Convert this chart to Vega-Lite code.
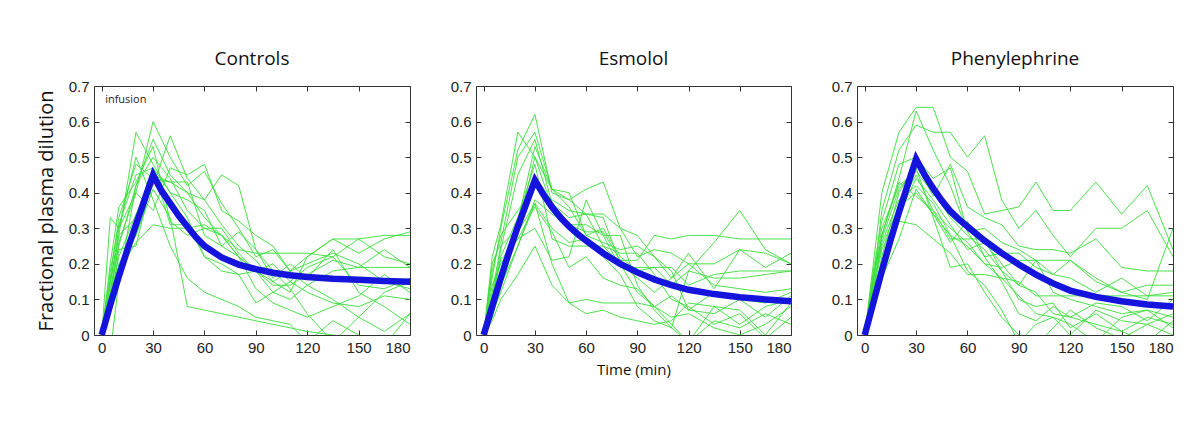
{
"$schema": "https://vega.github.io/schema/vega-lite/v6.json",
"background": "white",
"padding": {"left": 35, "top": 50, "right": 5, "bottom": 5},
"spacing": 35,
"config": {
  "view": {"stroke": null},
  "font": "Open Sans",
  "title": {"font": "Open Sans", "fontSize": 19, "fontWeight": "normal", "color": "#111", "offset": 10},
  "axis": {"grid": false, "domainColor": "#333", "tickColor": "#333", "tickSize": -5, "labelFont": "Liberation Sans", "labelFontWeight": 400, "labelFontSize": 15, "labelColor": "#222", "labelPadding": 10, "titleFont": "Open Sans", "titleFontWeight": "normal", "titleColor": "#111"}
},
"datasets": {
"gC": [
{"s":1,"t":0,"v":0},{"s":1,"t":5,"v":0.12},{"s":1,"t":10,"v":0.25},{"s":1,"t":20,"v":0.42},{"s":1,"t":30,"v":0.55},{"s":1,"t":40,"v":0.45},{"s":1,"t":50,"v":0.4},{"s":1,"t":60,"v":0.33},{"s":1,"t":70,"v":0.28},{"s":1,"t":80,"v":0.22},{"s":1,"t":90,"v":0.18},{"s":1,"t":100,"v":0.2},{"s":1,"t":110,"v":0.15},{"s":1,"t":120,"v":0.19},{"s":1,"t":135,"v":0.22},{"s":1,"t":150,"v":0.27},{"s":1,"t":165,"v":0.28},{"s":1,"t":180,"v":0.28},
{"s":2,"t":0,"v":0},{"s":2,"t":5,"v":0.15},{"s":2,"t":10,"v":0.28},{"s":2,"t":20,"v":0.57},{"s":2,"t":30,"v":0.48},{"s":2,"t":40,"v":0.4},{"s":2,"t":50,"v":0.38},{"s":2,"t":60,"v":0.35},{"s":2,"t":70,"v":0.25},{"s":2,"t":80,"v":0.22},{"s":2,"t":90,"v":0.18},{"s":2,"t":100,"v":0.14},{"s":2,"t":110,"v":0.14},{"s":2,"t":120,"v":0.17},{"s":2,"t":135,"v":0.21},{"s":2,"t":150,"v":0.19},{"s":2,"t":165,"v":0.24},{"s":2,"t":180,"v":0.19},
{"s":3,"t":0,"v":0},{"s":3,"t":5,"v":0.33},{"s":3,"t":10,"v":0.3},{"s":3,"t":20,"v":0.4},{"s":3,"t":30,"v":0.6},{"s":3,"t":40,"v":0.5},{"s":3,"t":50,"v":0.42},{"s":3,"t":60,"v":0.46},{"s":3,"t":70,"v":0.37},{"s":3,"t":80,"v":0.3},{"s":3,"t":90,"v":0.22},{"s":3,"t":100,"v":0.24},{"s":3,"t":110,"v":0.18},{"s":3,"t":120,"v":0.14},{"s":3,"t":135,"v":0.1},{"s":3,"t":150,"v":0.05},{"s":3,"t":165,"v":0.12},{"s":3,"t":180,"v":0.15},
{"s":4,"t":0,"v":0},{"s":4,"t":5,"v":0.1},{"s":4,"t":10,"v":0.22},{"s":4,"t":20,"v":0.34},{"s":4,"t":30,"v":0.42},{"s":4,"t":40,"v":0.56},{"s":4,"t":50,"v":0.44},{"s":4,"t":60,"v":0.38},{"s":4,"t":70,"v":0.31},{"s":4,"t":80,"v":0.25},{"s":4,"t":90,"v":0.21},{"s":4,"t":100,"v":0.15},{"s":4,"t":110,"v":0.12},{"s":4,"t":120,"v":0.22},{"s":4,"t":135,"v":0.27},{"s":4,"t":150,"v":0.23},{"s":4,"t":165,"v":0.27},{"s":4,"t":180,"v":0.29},
{"s":5,"t":0,"v":0},{"s":5,"t":5,"v":0.08},{"s":5,"t":10,"v":0.18},{"s":5,"t":20,"v":0.26},{"s":5,"t":30,"v":0.31},{"s":5,"t":40,"v":0.3},{"s":5,"t":50,"v":0.3},{"s":5,"t":60,"v":0.31},{"s":5,"t":70,"v":0.28},{"s":5,"t":80,"v":0.24},{"s":5,"t":90,"v":0.23},{"s":5,"t":100,"v":0.23},{"s":5,"t":110,"v":0.23},{"s":5,"t":120,"v":0.23},{"s":5,"t":135,"v":0.22},{"s":5,"t":150,"v":0.14},{"s":5,"t":165,"v":0.13},{"s":5,"t":180,"v":0.16},
{"s":6,"t":0,"v":0},{"s":6,"t":5,"v":0.06},{"s":6,"t":10,"v":0.24},{"s":6,"t":20,"v":0.25},{"s":6,"t":30,"v":0.45},{"s":6,"t":40,"v":0.43},{"s":6,"t":50,"v":0.4},{"s":6,"t":60,"v":0.38},{"s":6,"t":70,"v":0.45},{"s":6,"t":80,"v":0.42},{"s":6,"t":90,"v":0.24},{"s":6,"t":100,"v":0.18},{"s":6,"t":110,"v":0.13},{"s":6,"t":120,"v":0.06},{"s":6,"t":135,"v":-0.02},{"s":6,"t":150,"v":0.05},{"s":6,"t":165,"v":0.01},{"s":6,"t":180,"v":0.06},
{"s":7,"t":0,"v":0},{"s":7,"t":5,"v":-0.05},{"s":7,"t":10,"v":0.15},{"s":7,"t":20,"v":0.42},{"s":7,"t":30,"v":0.5},{"s":7,"t":40,"v":0.44},{"s":7,"t":50,"v":0.35},{"s":7,"t":60,"v":0.3},{"s":7,"t":70,"v":0.28},{"s":7,"t":80,"v":0.22},{"s":7,"t":90,"v":0.13},{"s":7,"t":100,"v":0.09},{"s":7,"t":110,"v":0.07},{"s":7,"t":120,"v":0.05},{"s":7,"t":135,"v":0.08},{"s":7,"t":150,"v":0.11},{"s":7,"t":165,"v":0.17},{"s":7,"t":180,"v":0.12},
{"s":8,"t":0,"v":0},{"s":8,"t":5,"v":0.18},{"s":8,"t":10,"v":0.31},{"s":8,"t":20,"v":0.45},{"s":8,"t":30,"v":0.47},{"s":8,"t":40,"v":0.4},{"s":8,"t":50,"v":0.33},{"s":8,"t":60,"v":0.22},{"s":8,"t":70,"v":0.2},{"s":8,"t":80,"v":0.17},{"s":8,"t":90,"v":0.09},{"s":8,"t":100,"v":0.12},{"s":8,"t":110,"v":0.1},{"s":8,"t":120,"v":0.14},{"s":8,"t":135,"v":0.18},{"s":8,"t":150,"v":0.19},{"s":8,"t":165,"v":0.19},{"s":8,"t":180,"v":0.19},
{"s":9,"t":0,"v":0},{"s":9,"t":5,"v":0.2},{"s":9,"t":10,"v":0.36},{"s":9,"t":20,"v":0.43},{"s":9,"t":30,"v":0.53},{"s":9,"t":40,"v":0.32},{"s":9,"t":50,"v":0.28},{"s":9,"t":60,"v":0.3},{"s":9,"t":70,"v":0.3},{"s":9,"t":80,"v":0.23},{"s":9,"t":90,"v":0.18},{"s":9,"t":100,"v":0.15},{"s":9,"t":110,"v":0.18},{"s":9,"t":120,"v":0.22},{"s":9,"t":135,"v":0.27},{"s":9,"t":150,"v":0.27},{"s":9,"t":165,"v":0.22},{"s":9,"t":180,"v":0.2},
{"s":10,"t":0,"v":0},{"s":10,"t":5,"v":0.14},{"s":10,"t":10,"v":0.3},{"s":10,"t":20,"v":0.5},{"s":10,"t":30,"v":0.38},{"s":10,"t":40,"v":0.25},{"s":10,"t":50,"v":0.16},{"s":10,"t":60,"v":0.12},{"s":10,"t":70,"v":0.1},{"s":10,"t":80,"v":0.08},{"s":10,"t":90,"v":0.05},{"s":10,"t":100,"v":0.04},{"s":10,"t":110,"v":0.03},{"s":10,"t":120,"v":-0.02},{"s":10,"t":135,"v":0.04},{"s":10,"t":150,"v":0},{"s":10,"t":165,"v":-0.03},{"s":10,"t":180,"v":0.06},
{"s":11,"t":0,"v":0},{"s":11,"t":5,"v":0.12},{"s":11,"t":10,"v":0.28},{"s":11,"t":20,"v":0.33},{"s":11,"t":30,"v":0.47},{"s":11,"t":40,"v":0.31},{"s":11,"t":50,"v":0.31},{"s":11,"t":60,"v":0.22},{"s":11,"t":70,"v":0.18},{"s":11,"t":80,"v":0.17},{"s":11,"t":90,"v":0.18},{"s":11,"t":100,"v":0.12},{"s":11,"t":110,"v":0.15},{"s":11,"t":120,"v":0.12},{"s":11,"t":135,"v":0.09},{"s":11,"t":150,"v":0.08},{"s":11,"t":165,"v":0.11},{"s":11,"t":180,"v":0.1},
{"s":12,"t":0,"v":0},{"s":12,"t":5,"v":0.1},{"s":12,"t":10,"v":0.26},{"s":12,"t":20,"v":0.4},{"s":12,"t":30,"v":0.35},{"s":12,"t":40,"v":0.47},{"s":12,"t":50,"v":0.45},{"s":12,"t":60,"v":0.48},{"s":12,"t":70,"v":0.35},{"s":12,"t":80,"v":0.32},{"s":12,"t":90,"v":0.28},{"s":12,"t":100,"v":0.25},{"s":12,"t":110,"v":0.18},{"s":12,"t":120,"v":0.2},{"s":12,"t":135,"v":0.23},{"s":12,"t":150,"v":0.2},{"s":12,"t":165,"v":0.15},{"s":12,"t":180,"v":0.13},
{"s":13,"t":0,"v":0},{"s":13,"t":5,"v":0.09},{"s":13,"t":10,"v":0.2},{"s":13,"t":20,"v":0.28},{"s":13,"t":30,"v":0.41},{"s":13,"t":40,"v":0.33},{"s":13,"t":50,"v":0.08},{"s":13,"t":60,"v":0.07},{"s":13,"t":70,"v":0.06},{"s":13,"t":80,"v":0.05},{"s":13,"t":90,"v":0.04},{"s":13,"t":100,"v":0.03},{"s":13,"t":110,"v":0.02},{"s":13,"t":120,"v":0.01},{"s":13,"t":135,"v":0},{"s":13,"t":150,"v":-0.01},{"s":13,"t":165,"v":-0.02},{"s":13,"t":180,"v":-0.04},
{"s":14,"t":0,"v":0},{"s":14,"t":5,"v":0.16},{"s":14,"t":10,"v":0.33},{"s":14,"t":20,"v":0.48},{"s":14,"t":30,"v":0.44},{"s":14,"t":40,"v":0.43},{"s":14,"t":50,"v":0.43},{"s":14,"t":60,"v":0.28},{"s":14,"t":70,"v":0.25},{"s":14,"t":80,"v":0.29},{"s":14,"t":90,"v":0.24},{"s":14,"t":100,"v":0.16},{"s":14,"t":110,"v":0.2},{"s":14,"t":120,"v":0.16},{"s":14,"t":135,"v":0.24},{"s":14,"t":150,"v":0.12},{"s":14,"t":165,"v":0.08},{"s":14,"t":180,"v":0.03}
],
"gE": [
{"s":1,"t":0,"v":0},{"s":1,"t":5,"v":0.22},{"s":1,"t":10,"v":0.31},{"s":1,"t":20,"v":0.57},{"s":1,"t":30,"v":0.5},{"s":1,"t":40,"v":0.41},{"s":1,"t":50,"v":0.4},{"s":1,"t":60,"v":0.28},{"s":1,"t":70,"v":0.3},{"s":1,"t":80,"v":0.22},{"s":1,"t":90,"v":0.18},{"s":1,"t":100,"v":0.19},{"s":1,"t":110,"v":0.14},{"s":1,"t":120,"v":0.18},{"s":1,"t":135,"v":0.16},{"s":1,"t":150,"v":0.16},{"s":1,"t":165,"v":0.17},{"s":1,"t":180,"v":0.18},
{"s":2,"t":0,"v":0},{"s":2,"t":5,"v":0.16},{"s":2,"t":10,"v":0.3},{"s":2,"t":20,"v":0.52},{"s":2,"t":30,"v":0.62},{"s":2,"t":40,"v":0.4},{"s":2,"t":50,"v":0.38},{"s":2,"t":60,"v":0.41},{"s":2,"t":70,"v":0.43},{"s":2,"t":80,"v":0.3},{"s":2,"t":90,"v":0.22},{"s":2,"t":100,"v":0.24},{"s":2,"t":110,"v":0.23},{"s":2,"t":120,"v":0.2},{"s":2,"t":135,"v":0.2},{"s":2,"t":150,"v":0.24},{"s":2,"t":165,"v":0.23},{"s":2,"t":180,"v":0.2},
{"s":3,"t":0,"v":0},{"s":3,"t":5,"v":0.1},{"s":3,"t":10,"v":0.24},{"s":3,"t":20,"v":0.45},{"s":3,"t":30,"v":0.55},{"s":3,"t":40,"v":0.37},{"s":3,"t":50,"v":0.33},{"s":3,"t":60,"v":0.34},{"s":3,"t":70,"v":0.25},{"s":3,"t":80,"v":0.2},{"s":3,"t":90,"v":0.12},{"s":3,"t":100,"v":0.08},{"s":3,"t":110,"v":0.11},{"s":3,"t":120,"v":0.07},{"s":3,"t":135,"v":0.12},{"s":3,"t":150,"v":0.1},{"s":3,"t":165,"v":0.09},{"s":3,"t":180,"v":0.12},
{"s":4,"t":0,"v":0},{"s":4,"t":5,"v":0.08},{"s":4,"t":10,"v":0.16},{"s":4,"t":20,"v":0.32},{"s":4,"t":30,"v":0.53},{"s":4,"t":40,"v":0.41},{"s":4,"t":50,"v":0.36},{"s":4,"t":60,"v":0.28},{"s":4,"t":70,"v":0.26},{"s":4,"t":80,"v":0.24},{"s":4,"t":90,"v":0.25},{"s":4,"t":100,"v":0.22},{"s":4,"t":110,"v":0.18},{"s":4,"t":120,"v":0.07},{"s":4,"t":135,"v":0.06},{"s":4,"t":150,"v":0.1},{"s":4,"t":165,"v":0.05},{"s":4,"t":180,"v":0.11},
{"s":5,"t":0,"v":0},{"s":5,"t":5,"v":0.05},{"s":5,"t":10,"v":0.14},{"s":5,"t":20,"v":0.25},{"s":5,"t":30,"v":0.37},{"s":5,"t":40,"v":0.3},{"s":5,"t":50,"v":0.26},{"s":5,"t":60,"v":0.27},{"s":5,"t":70,"v":0.22},{"s":5,"t":80,"v":0.17},{"s":5,"t":90,"v":0.08},{"s":5,"t":100,"v":0.04},{"s":5,"t":110,"v":0.02},{"s":5,"t":120,"v":-0.02},{"s":5,"t":135,"v":0.08},{"s":5,"t":150,"v":0.07},{"s":5,"t":165,"v":0},{"s":5,"t":180,"v":0.09},
{"s":6,"t":0,"v":0},{"s":6,"t":5,"v":0.12},{"s":6,"t":10,"v":0.25},{"s":6,"t":20,"v":0.3},{"s":6,"t":30,"v":0.5},{"s":6,"t":40,"v":0.36},{"s":6,"t":50,"v":0.31},{"s":6,"t":60,"v":0.29},{"s":6,"t":70,"v":0.29},{"s":6,"t":80,"v":0.21},{"s":6,"t":90,"v":0.21},{"s":6,"t":100,"v":0.28},{"s":6,"t":110,"v":0.27},{"s":6,"t":120,"v":0.28},{"s":6,"t":135,"v":0.28},{"s":6,"t":150,"v":0.27},{"s":6,"t":165,"v":0.27},{"s":6,"t":180,"v":0.27},
{"s":7,"t":0,"v":0},{"s":7,"t":5,"v":0.06},{"s":7,"t":10,"v":0.12},{"s":7,"t":20,"v":0.25},{"s":7,"t":30,"v":0.38},{"s":7,"t":40,"v":0.34},{"s":7,"t":50,"v":0.31},{"s":7,"t":60,"v":0.31},{"s":7,"t":70,"v":0.28},{"s":7,"t":80,"v":0.28},{"s":7,"t":90,"v":0.14},{"s":7,"t":100,"v":0.07},{"s":7,"t":110,"v":0.02},{"s":7,"t":120,"v":0.18},{"s":7,"t":135,"v":0.26},{"s":7,"t":150,"v":0.35},{"s":7,"t":165,"v":0.24},{"s":7,"t":180,"v":0.2},
{"s":8,"t":0,"v":0},{"s":8,"t":5,"v":0.14},{"s":8,"t":10,"v":0.2},{"s":8,"t":20,"v":0.27},{"s":8,"t":30,"v":0.3},{"s":8,"t":40,"v":0.21},{"s":8,"t":50,"v":0.22},{"s":8,"t":60,"v":0.38},{"s":8,"t":70,"v":0.28},{"s":8,"t":80,"v":0.19},{"s":8,"t":90,"v":0.19},{"s":8,"t":100,"v":0.19},{"s":8,"t":110,"v":0.19},{"s":8,"t":120,"v":0.14},{"s":8,"t":135,"v":0.17},{"s":8,"t":150,"v":0.18},{"s":8,"t":165,"v":0.18},{"s":8,"t":180,"v":0.18},
{"s":9,"t":0,"v":0},{"s":9,"t":5,"v":0.04},{"s":9,"t":10,"v":0.1},{"s":9,"t":20,"v":0.17},{"s":9,"t":30,"v":0.25},{"s":9,"t":40,"v":0.14},{"s":9,"t":50,"v":0.09},{"s":9,"t":60,"v":0.1},{"s":9,"t":70,"v":0.09},{"s":9,"t":80,"v":0.09},{"s":9,"t":90,"v":0.09},{"s":9,"t":100,"v":0.08},{"s":9,"t":110,"v":0.05},{"s":9,"t":120,"v":0.06},{"s":9,"t":135,"v":0.02},{"s":9,"t":150,"v":0},{"s":9,"t":165,"v":0.03},{"s":9,"t":180,"v":0.08},
{"s":10,"t":0,"v":0},{"s":10,"t":5,"v":0.18},{"s":10,"t":10,"v":0.28},{"s":10,"t":20,"v":0.35},{"s":10,"t":30,"v":0.42},{"s":10,"t":40,"v":0.38},{"s":10,"t":50,"v":0.35},{"s":10,"t":60,"v":0.34},{"s":10,"t":70,"v":0.33},{"s":10,"t":80,"v":0.2},{"s":10,"t":90,"v":0.16},{"s":10,"t":100,"v":0.12},{"s":10,"t":110,"v":0.16},{"s":10,"t":120,"v":0.23},{"s":10,"t":135,"v":0.13},{"s":10,"t":150,"v":0.24},{"s":10,"t":165,"v":0.19},{"s":10,"t":180,"v":0.23},
{"s":11,"t":0,"v":0},{"s":11,"t":5,"v":0.1},{"s":11,"t":10,"v":0.22},{"s":11,"t":20,"v":0.33},{"s":11,"t":30,"v":0.48},{"s":11,"t":40,"v":0.27},{"s":11,"t":50,"v":0.25},{"s":11,"t":60,"v":0.25},{"s":11,"t":70,"v":0.25},{"s":11,"t":80,"v":0.23},{"s":11,"t":90,"v":0.23},{"s":11,"t":100,"v":0.17},{"s":11,"t":110,"v":0.1},{"s":11,"t":120,"v":0.08},{"s":11,"t":135,"v":0.03},{"s":11,"t":150,"v":0.06},{"s":11,"t":165,"v":-0.01},{"s":11,"t":180,"v":0.05},
{"s":12,"t":0,"v":0},{"s":12,"t":5,"v":0.09},{"s":12,"t":10,"v":0.18},{"s":12,"t":20,"v":0.29},{"s":12,"t":30,"v":0.37},{"s":12,"t":40,"v":0.2},{"s":12,"t":50,"v":0.09},{"s":12,"t":60,"v":0.06},{"s":12,"t":70,"v":0.07},{"s":12,"t":80,"v":0.05},{"s":12,"t":90,"v":0.04},{"s":12,"t":100,"v":0.03},{"s":12,"t":110,"v":0.04},{"s":12,"t":120,"v":0.09},{"s":12,"t":135,"v":0.08},{"s":12,"t":150,"v":0.03},{"s":12,"t":165,"v":0.08},{"s":12,"t":180,"v":0.1},
{"s":13,"t":0,"v":0},{"s":13,"t":5,"v":0.2},{"s":13,"t":10,"v":0.26},{"s":13,"t":20,"v":0.5},{"s":13,"t":30,"v":0.57},{"s":13,"t":40,"v":0.41},{"s":13,"t":50,"v":0.38},{"s":13,"t":60,"v":0.34},{"s":13,"t":70,"v":0.34},{"s":13,"t":80,"v":0.3},{"s":13,"t":90,"v":0.28},{"s":13,"t":100,"v":0.22},{"s":13,"t":110,"v":0.16},{"s":13,"t":120,"v":0.2},{"s":13,"t":135,"v":0.14},{"s":13,"t":150,"v":0.13},{"s":13,"t":165,"v":0.12},{"s":13,"t":180,"v":0.13},
{"s":14,"t":0,"v":0},{"s":14,"t":5,"v":0.11},{"s":14,"t":10,"v":0.21},{"s":14,"t":20,"v":0.27},{"s":14,"t":30,"v":0.36},{"s":14,"t":40,"v":0.29},{"s":14,"t":50,"v":0.19},{"s":14,"t":60,"v":0.22},{"s":14,"t":70,"v":0.16},{"s":14,"t":80,"v":0.14},{"s":14,"t":90,"v":0.13},{"s":14,"t":100,"v":0.08},{"s":14,"t":110,"v":0.03},{"s":14,"t":120,"v":-0.02},{"s":14,"t":135,"v":0.04},{"s":14,"t":150,"v":0.02},{"s":14,"t":165,"v":0.06},{"s":14,"t":180,"v":0.03}
],
"gP": [
{"s":1,"t":0,"v":0},{"s":1,"t":5,"v":0.2},{"s":1,"t":10,"v":0.4},{"s":1,"t":20,"v":0.57},{"s":1,"t":30,"v":0.64},{"s":1,"t":40,"v":0.64},{"s":1,"t":50,"v":0.5},{"s":1,"t":60,"v":0.46},{"s":1,"t":70,"v":0.34},{"s":1,"t":80,"v":0.35},{"s":1,"t":90,"v":0.36},{"s":1,"t":100,"v":0.43},{"s":1,"t":110,"v":0.35},{"s":1,"t":120,"v":0.35},{"s":1,"t":135,"v":0.43},{"s":1,"t":150,"v":0.34},{"s":1,"t":165,"v":0.42},{"s":1,"t":180,"v":0.24},
{"s":2,"t":0,"v":0},{"s":2,"t":5,"v":0.15},{"s":2,"t":10,"v":0.35},{"s":2,"t":20,"v":0.52},{"s":2,"t":30,"v":0.59},{"s":2,"t":40,"v":0.57},{"s":2,"t":50,"v":0.57},{"s":2,"t":60,"v":0.5},{"s":2,"t":70,"v":0.56},{"s":2,"t":80,"v":0.38},{"s":2,"t":90,"v":0.3},{"s":2,"t":100,"v":0.35},{"s":2,"t":110,"v":0.28},{"s":2,"t":120,"v":0.22},{"s":2,"t":135,"v":0.3},{"s":2,"t":150,"v":0.3},{"s":2,"t":165,"v":0.35},{"s":2,"t":180,"v":0.22},
{"s":3,"t":0,"v":0},{"s":3,"t":5,"v":0.12},{"s":3,"t":10,"v":0.28},{"s":3,"t":20,"v":0.44},{"s":3,"t":30,"v":0.63},{"s":3,"t":40,"v":0.52},{"s":3,"t":50,"v":0.42},{"s":3,"t":60,"v":0.29},{"s":3,"t":70,"v":0.3},{"s":3,"t":80,"v":0.26},{"s":3,"t":90,"v":0.24},{"s":3,"t":100,"v":0.21},{"s":3,"t":110,"v":0.21},{"s":3,"t":120,"v":0.21},{"s":3,"t":135,"v":0.16},{"s":3,"t":150,"v":0.12},{"s":3,"t":165,"v":0.1},{"s":3,"t":180,"v":0.3},
{"s":4,"t":0,"v":0},{"s":4,"t":5,"v":0.1},{"s":4,"t":10,"v":0.22},{"s":4,"t":20,"v":0.4},{"s":4,"t":30,"v":0.48},{"s":4,"t":40,"v":0.39},{"s":4,"t":50,"v":0.48},{"s":4,"t":60,"v":0.36},{"s":4,"t":70,"v":0.33},{"s":4,"t":80,"v":0.31},{"s":4,"t":90,"v":0.25},{"s":4,"t":100,"v":0.24},{"s":4,"t":110,"v":0.24},{"s":4,"t":120,"v":0.23},{"s":4,"t":135,"v":0.27},{"s":4,"t":150,"v":0.19},{"s":4,"t":165,"v":0.18},{"s":4,"t":180,"v":0.18},
{"s":5,"t":0,"v":0},{"s":5,"t":5,"v":0.14},{"s":5,"t":10,"v":0.25},{"s":5,"t":20,"v":0.36},{"s":5,"t":30,"v":0.45},{"s":5,"t":40,"v":0.35},{"s":5,"t":50,"v":0.3},{"s":5,"t":60,"v":0.26},{"s":5,"t":70,"v":0.2},{"s":5,"t":80,"v":0.19},{"s":5,"t":90,"v":0.21},{"s":5,"t":100,"v":0.21},{"s":5,"t":110,"v":0.12},{"s":5,"t":120,"v":0.1},{"s":5,"t":135,"v":0.08},{"s":5,"t":150,"v":0.06},{"s":5,"t":165,"v":0.07},{"s":5,"t":180,"v":0.05},
{"s":6,"t":0,"v":0},{"s":6,"t":5,"v":0.09},{"s":6,"t":10,"v":0.18},{"s":6,"t":20,"v":0.32},{"s":6,"t":30,"v":0.31},{"s":6,"t":40,"v":0.27},{"s":6,"t":50,"v":0.23},{"s":6,"t":60,"v":0.17},{"s":6,"t":70,"v":0.17},{"s":6,"t":80,"v":0.16},{"s":6,"t":90,"v":0.15},{"s":6,"t":100,"v":0.11},{"s":6,"t":110,"v":0.11},{"s":6,"t":120,"v":0.11},{"s":6,"t":135,"v":0.11},{"s":6,"t":150,"v":0.11},{"s":6,"t":165,"v":0.11},{"s":6,"t":180,"v":0.11},
{"s":7,"t":0,"v":0},{"s":7,"t":5,"v":0.13},{"s":7,"t":10,"v":0.26},{"s":7,"t":20,"v":0.38},{"s":7,"t":30,"v":0.42},{"s":7,"t":40,"v":0.37},{"s":7,"t":50,"v":0.28},{"s":7,"t":60,"v":0.25},{"s":7,"t":70,"v":0.2},{"s":7,"t":80,"v":0.16},{"s":7,"t":90,"v":0.11},{"s":7,"t":100,"v":0.06},{"s":7,"t":110,"v":0.05},{"s":7,"t":120,"v":0.03},{"s":7,"t":135,"v":-0.02},{"s":7,"t":150,"v":0.05},{"s":7,"t":165,"v":0.07},{"s":7,"t":180,"v":0.02},
{"s":8,"t":0,"v":0},{"s":8,"t":5,"v":0.16},{"s":8,"t":10,"v":0.3},{"s":8,"t":20,"v":0.42},{"s":8,"t":30,"v":0.46},{"s":8,"t":40,"v":0.4},{"s":8,"t":50,"v":0.33},{"s":8,"t":60,"v":0.28},{"s":8,"t":70,"v":0.24},{"s":8,"t":80,"v":0.18},{"s":8,"t":90,"v":0.1},{"s":8,"t":100,"v":0.08},{"s":8,"t":110,"v":0.09},{"s":8,"t":120,"v":0.02},{"s":8,"t":135,"v":0.06},{"s":8,"t":150,"v":0.01},{"s":8,"t":165,"v":-0.02},{"s":8,"t":180,"v":0.04},
{"s":9,"t":0,"v":0},{"s":9,"t":5,"v":0.1},{"s":9,"t":10,"v":0.16},{"s":9,"t":20,"v":0.27},{"s":9,"t":30,"v":0.41},{"s":9,"t":40,"v":0.34},{"s":9,"t":50,"v":0.28},{"s":9,"t":60,"v":0.18},{"s":9,"t":70,"v":0.14},{"s":9,"t":80,"v":0.07},{"s":9,"t":90,"v":-0.02},{"s":9,"t":100,"v":0.03},{"s":9,"t":110,"v":0.05},{"s":9,"t":120,"v":0},{"s":9,"t":135,"v":0.07},{"s":9,"t":150,"v":0.04},{"s":9,"t":165,"v":0.03},{"s":9,"t":180,"v":0.06},
{"s":10,"t":0,"v":0},{"s":10,"t":5,"v":0.18},{"s":10,"t":10,"v":0.32},{"s":10,"t":20,"v":0.48},{"s":10,"t":30,"v":0.5},{"s":10,"t":40,"v":0.44},{"s":10,"t":50,"v":0.47},{"s":10,"t":60,"v":0.29},{"s":10,"t":70,"v":0.22},{"s":10,"t":80,"v":0.23},{"s":10,"t":90,"v":0.23},{"s":10,"t":100,"v":0.19},{"s":10,"t":110,"v":0.17},{"s":10,"t":120,"v":0.21},{"s":10,"t":135,"v":0.15},{"s":10,"t":150,"v":0.12},{"s":10,"t":165,"v":0.14},{"s":10,"t":180,"v":0.14},
{"s":11,"t":0,"v":0},{"s":11,"t":5,"v":0.12},{"s":11,"t":10,"v":0.24},{"s":11,"t":20,"v":0.34},{"s":11,"t":30,"v":0.44},{"s":11,"t":40,"v":0.38},{"s":11,"t":50,"v":0.31},{"s":11,"t":60,"v":0.24},{"s":11,"t":70,"v":0.26},{"s":11,"t":80,"v":0.2},{"s":11,"t":90,"v":0.14},{"s":11,"t":100,"v":0.12},{"s":11,"t":110,"v":0.06},{"s":11,"t":120,"v":0.05},{"s":11,"t":135,"v":0.03},{"s":11,"t":150,"v":0.01},{"s":11,"t":165,"v":0.05},{"s":11,"t":180,"v":0.03},
{"s":12,"t":0,"v":0},{"s":12,"t":5,"v":0.15},{"s":12,"t":10,"v":0.28},{"s":12,"t":20,"v":0.43},{"s":12,"t":30,"v":0.39},{"s":12,"t":40,"v":0.35},{"s":12,"t":50,"v":0.27},{"s":12,"t":60,"v":0.27},{"s":12,"t":70,"v":0.27},{"s":12,"t":80,"v":0.18},{"s":12,"t":90,"v":0.14},{"s":12,"t":100,"v":0.21},{"s":12,"t":110,"v":0.17},{"s":12,"t":120,"v":0.16},{"s":12,"t":135,"v":0.12},{"s":12,"t":150,"v":0.16},{"s":12,"t":165,"v":0.11},{"s":12,"t":180,"v":0.12},
{"s":13,"t":0,"v":0},{"s":13,"t":5,"v":0.11},{"s":13,"t":10,"v":0.2},{"s":13,"t":20,"v":0.36},{"s":13,"t":30,"v":0.4},{"s":13,"t":40,"v":0.34},{"s":13,"t":50,"v":0.26},{"s":13,"t":60,"v":0.32},{"s":13,"t":70,"v":0.22},{"s":13,"t":80,"v":0.15},{"s":13,"t":90,"v":0.06},{"s":13,"t":100,"v":0.04},{"s":13,"t":110,"v":0.08},{"s":13,"t":120,"v":0.05},{"s":13,"t":135,"v":0.09},{"s":13,"t":150,"v":0.08},{"s":13,"t":165,"v":0.04},{"s":13,"t":180,"v":0.1},
{"s":14,"t":0,"v":0},{"s":14,"t":5,"v":0.17},{"s":14,"t":10,"v":0.27},{"s":14,"t":20,"v":0.41},{"s":14,"t":30,"v":0.47},{"s":14,"t":40,"v":0.33},{"s":14,"t":50,"v":0.19},{"s":14,"t":60,"v":0.2},{"s":14,"t":70,"v":0.12},{"s":14,"t":80,"v":0.05},{"s":14,"t":90,"v":0},{"s":14,"t":100,"v":-0.03},{"s":14,"t":110,"v":0.02},{"s":14,"t":120,"v":0.07},{"s":14,"t":135,"v":0.02},{"s":14,"t":150,"v":-0.01},{"s":14,"t":165,"v":0.03},{"s":14,"t":180,"v":0}
],
"mC": [
{"t":0,"v":0},{"t":5,"v":0.085},{"t":10,"v":0.165},{"t":15,"v":0.24},{"t":20,"v":0.31},{"t":25,"v":0.38},{"t":30,"v":0.45},{"t":35,"v":0.405},{"t":40,"v":0.37},{"t":45,"v":0.335},{"t":50,"v":0.305},{"t":55,"v":0.275},{"t":60,"v":0.25},{"t":70,"v":0.218},{"t":80,"v":0.198},{"t":90,"v":0.185},{"t":100,"v":0.175},{"t":110,"v":0.168},{"t":120,"v":0.163},{"t":135,"v":0.158},{"t":150,"v":0.155},{"t":165,"v":0.152},{"t":180,"v":0.15}
],
"mE": [
{"t":0,"v":0},{"t":5,"v":0.08},{"t":10,"v":0.16},{"t":15,"v":0.235},{"t":20,"v":0.305},{"t":25,"v":0.37},{"t":30,"v":0.435},{"t":35,"v":0.395},{"t":40,"v":0.36},{"t":45,"v":0.33},{"t":50,"v":0.305},{"t":55,"v":0.284},{"t":60,"v":0.265},{"t":70,"v":0.23},{"t":80,"v":0.2},{"t":90,"v":0.176},{"t":100,"v":0.156},{"t":110,"v":0.14},{"t":120,"v":0.127},{"t":135,"v":0.115},{"t":150,"v":0.106},{"t":165,"v":0.1},{"t":180,"v":0.095}
],
"mP": [
{"t":0,"v":0},{"t":5,"v":0.09},{"t":10,"v":0.18},{"t":15,"v":0.265},{"t":20,"v":0.345},{"t":25,"v":0.42},{"t":30,"v":0.495},{"t":35,"v":0.45},{"t":40,"v":0.412},{"t":45,"v":0.378},{"t":50,"v":0.348},{"t":55,"v":0.325},{"t":60,"v":0.305},{"t":70,"v":0.265},{"t":80,"v":0.23},{"t":90,"v":0.198},{"t":100,"v":0.17},{"t":110,"v":0.145},{"t":120,"v":0.125},{"t":135,"v":0.107},{"t":150,"v":0.095},{"t":165,"v":0.086},{"t":180,"v":0.08}
]
},
"hconcat": [
{
  "width": 316, "height": 249,
  "title": "Controls",
  "resolve": {"axis": {"x": "independent", "y": "independent"}},
  "layer": [
    {"data": {"name": "gC"}, "mark": {"type": "line", "clip": true, "color": "#38dc38", "strokeWidth": 0.9},
     "encoding": {
       "x": {"field": "t", "type": "quantitative", "scale": {"domain": [-4.5, 180], "nice": false, "zero": false}, "axis": {"orient": "bottom", "values": [0,30,60,90,120,150,180], "title": null}},
       "y": {"field": "v", "type": "quantitative", "scale": {"domain": [0, 0.7], "nice": false}, "axis": {"orient": "left", "values": [0,0.1,0.2,0.3,0.4,0.5,0.6,0.7], "format": ".1~f", "title": "Fractional plasma dilution", "titleFontSize": 20, "titlePadding": 8, "minExtent": 30, "maxExtent": 30}},
       "detail": {"field": "s", "type": "nominal"}}},
    {"data": {"name": "mC"}, "mark": {"type": "line", "clip": true, "color": "#1414dc", "strokeWidth": 6.5},
     "encoding": {
       "x": {"field": "t", "type": "quantitative", "axis": {"orient": "top", "values": [0,30,60,90,120,150,180], "labels": false, "title": null}},
       "y": {"field": "v", "type": "quantitative", "axis": {"orient": "right", "values": [0,0.1,0.2,0.3,0.4,0.5,0.6,0.7], "labels": false, "title": null}}}},
    {"data": {"values": [{"t": 2, "v": 0.66, "label": "infusion"}]}, "mark": {"type": "text", "align": "left", "baseline": "middle", "font": "Open Sans", "fontSize": 11, "color": "#222"},
     "encoding": {"x": {"field": "t", "type": "quantitative", "axis": null}, "y": {"field": "v", "type": "quantitative", "axis": null}, "text": {"field": "label"}}}
  ]
},
{
  "width": 315, "height": 249,
  "title": "Esmolol",
  "resolve": {"axis": {"x": "independent", "y": "independent"}},
  "layer": [
    {"data": {"name": "gE"}, "mark": {"type": "line", "clip": true, "color": "#38dc38", "strokeWidth": 0.9},
     "encoding": {
       "x": {"field": "t", "type": "quantitative", "scale": {"domain": [-4.5, 180], "nice": false, "zero": false}, "axis": {"orient": "bottom", "values": [0,30,60,90,120,150,180], "title": "Time (min)", "titleFontSize": 15, "titlePadding": 7}},
       "y": {"field": "v", "type": "quantitative", "scale": {"domain": [0, 0.7], "nice": false}, "axis": {"orient": "left", "values": [0,0.1,0.2,0.3,0.4,0.5,0.6,0.7], "format": ".1~f", "title": null, "minExtent": 30, "maxExtent": 30}},
       "detail": {"field": "s", "type": "nominal"}}},
    {"data": {"name": "mE"}, "mark": {"type": "line", "clip": true, "color": "#1414dc", "strokeWidth": 6.5},
     "encoding": {
       "x": {"field": "t", "type": "quantitative", "axis": {"orient": "top", "values": [0,30,60,90,120,150,180], "labels": false, "title": null}},
       "y": {"field": "v", "type": "quantitative", "axis": {"orient": "right", "values": [0,0.1,0.2,0.3,0.4,0.5,0.6,0.7], "labels": false, "title": null}}}}
  ]
},
{
  "width": 316, "height": 249,
  "title": "Phenylephrine",
  "resolve": {"axis": {"x": "independent", "y": "independent"}},
  "layer": [
    {"data": {"name": "gP"}, "mark": {"type": "line", "clip": true, "color": "#38dc38", "strokeWidth": 0.9},
     "encoding": {
       "x": {"field": "t", "type": "quantitative", "scale": {"domain": [-4.5, 180], "nice": false, "zero": false}, "axis": {"orient": "bottom", "values": [0,30,60,90,120,150,180], "title": null}},
       "y": {"field": "v", "type": "quantitative", "scale": {"domain": [0, 0.7], "nice": false}, "axis": {"orient": "left", "values": [0,0.1,0.2,0.3,0.4,0.5,0.6,0.7], "format": ".1~f", "title": null, "minExtent": 30, "maxExtent": 30}},
       "detail": {"field": "s", "type": "nominal"}}},
    {"data": {"name": "mP"}, "mark": {"type": "line", "clip": true, "color": "#1414dc", "strokeWidth": 6.5},
     "encoding": {
       "x": {"field": "t", "type": "quantitative", "axis": {"orient": "top", "values": [0,30,60,90,120,150,180], "labels": false, "title": null}},
       "y": {"field": "v", "type": "quantitative", "axis": {"orient": "right", "values": [0,0.1,0.2,0.3,0.4,0.5,0.6,0.7], "labels": false, "title": null}}}}
  ]
}
]
}
